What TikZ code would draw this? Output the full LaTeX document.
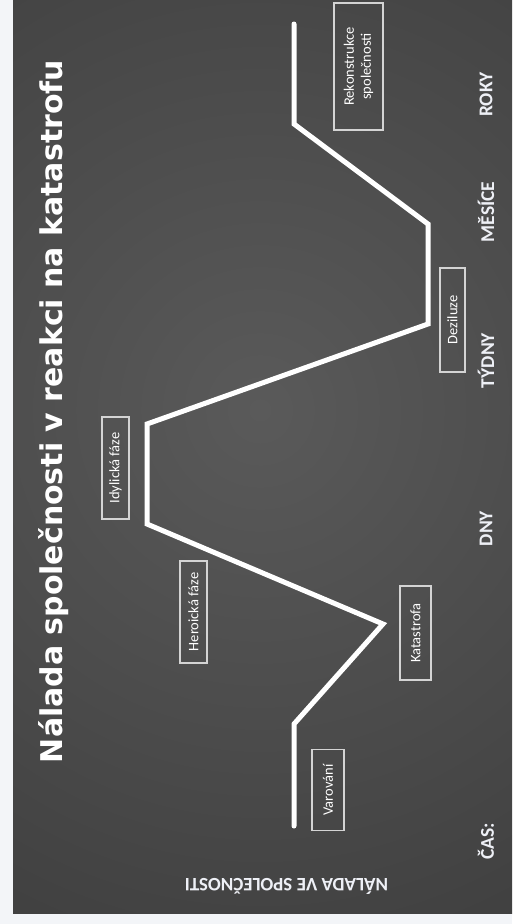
\documentclass[tikz,border=0pt]{standalone}
\usepackage{fontspec}
\setmainfont{Carlito}
\newfontfamily\titlefont{DejaVu Sans}
\usepackage{graphicx}
\definecolor{pagewhite}{HTML}{F3F5F8}
\definecolor{bgin}{HTML}{5A5A5A}
\definecolor{bgmid}{HTML}{3C3C3C}
\definecolor{bgout}{HTML}{1C1C1C}
\definecolor{boxline}{HTML}{D4D4D4}
\definecolor{labtext}{HTML}{EEF0F6}
\pgfdeclareradialshading{slidebg}{\pgfpoint{0bp}{0bp}}{color(0bp)=(bgin); color(28bp)=(bgmid); color(60bp)=(bgout); color(75bp)=(bgout)}
\begin{document}
\begin{tikzpicture}[x=1pt,y=-1pt,
  phasebox/.style={draw=boxline, line width=1.4pt, rotate=90, inner sep=0pt, text=white, align=center,
    font=\fontsize{14.5}{17}\selectfont},
  axislab/.style={rotate=90, inner sep=0pt, text=labtext, font=\bfseries\fontsize{19.5}{22}\selectfont},
  moodline/.style={draw=white, line width=5pt, line join=miter, line cap=round}]
\useasboundingbox (0,0) rectangle (512,924);
\fill[pagewhite] (0,0) rectangle (512,924);
\begin{scope}
  \clip (13,0) rectangle (512,913);
  \shade[shading=slidebg] (-320,-180) rectangle (840,1000);
\end{scope}
% title
\node[rotate=90, inner sep=0pt, text=white] (title) at (54,411.5)
  {\resizebox{703pt}{!}{\titlefont\bfseries Nálada společnosti v reakci na katastrofu}};
% mood curve
\coordinate (p0) at (294,826);
\coordinate (p1) at (294,724);
\coordinate (p2) at (383,624);
\coordinate (p3) at (147,524);
\coordinate (p4) at (147,424);
\coordinate (p5) at (428,324);
\coordinate (p6) at (428,224);
\coordinate (p7) at (294,124);
\coordinate (p8) at (294,24);
\draw[moodline] (p0) -- (p1) -- (p2) -- (p3) -- (p4) -- (p5) -- (p6) -- (p7) -- (p8);
% phase boxes
\node[phasebox, minimum width=81pt, minimum height=32pt] (var) at (328,790) {Varování};
\node[phasebox, minimum width=94pt, minimum height=31pt] (kat) at (415.5,633) {Katastrofa};
\node[phasebox, minimum width=102pt, minimum height=27pt] (her) at (193.5,612) {Heroická fáze};
\node[phasebox, minimum width=102pt, minimum height=27pt] (idy) at (115.5,468) {Idylická fáze};
\node[phasebox, minimum width=104pt, minimum height=25pt] (dez) at (452.5,320) {Deziluze};
\node[phasebox, minimum width=127pt, minimum height=49pt] (rek) at (358.5,66.5) {Rekonstrukce\\společnosti};
% time axis labels
\node[axislab] (cas) at (486,841.5) {ČAS:};
\node[axislab] (dny) at (486,528.5) {DNY};
\node[axislab] (tydny) at (486,360.5) {TÝDNY};
\node[axislab] (mesice) at (486,212) {MĚSÍCE};
\node[axislab] (roky) at (486,94.5) {ROKY};
% mood axis label
\node[rotate=180, inner sep=0pt, text=labtext, font=\bfseries\fontsize{19}{22}\selectfont] (mood) at (286.5,886.5) {NÁLADA VE SPOLEČNOSTI};
\end{tikzpicture}
\end{document}
